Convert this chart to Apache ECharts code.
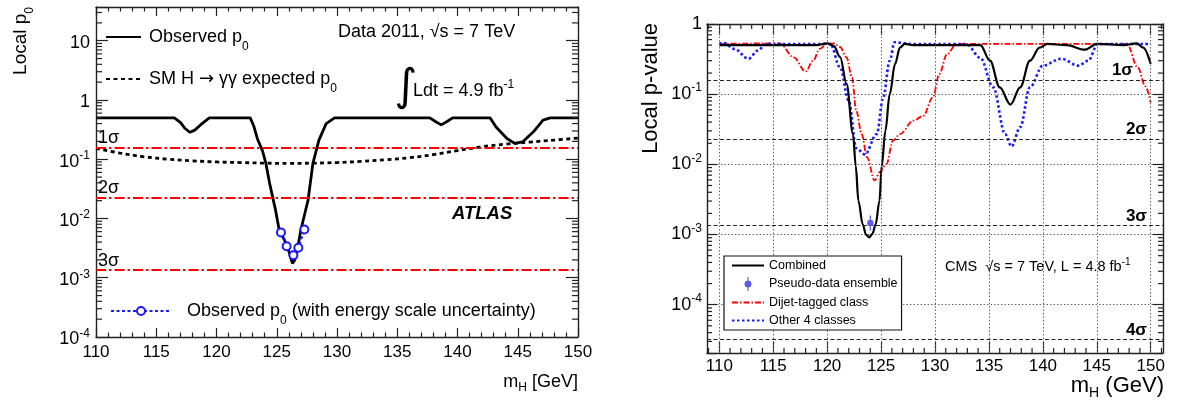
<!DOCTYPE html>
<html>
<head>
<meta charset="utf-8">
<script src="https://cdn.jsdelivr.net/npm/echarts@6/dist/echarts.min.js"></script>
<style>
html, body { margin: 0; padding: 0; background: #fff; }
#chart { width: 1177px; height: 401px; }
</style>
</head>
<body>
<div id="chart"></div>
<script>
// ---------------- ATLAS H -> gamma gamma, local p0 ----------------
const atlasObsMass = [110, 116.5, 117.0, 117.4, 117.8, 118.2, 118.8, 119.4, 122.8, 123.1, 123.4, 123.8,
  124.1, 124.4, 124.7, 124.9, 125.2, 125.6, 125.9, 126.1, 126.3, 126.5, 126.7, 127.0, 127.4, 127.6,
  128.0, 128.5, 129.1, 129.8, 137.7, 138.2, 138.65, 139.1, 139.6, 142.7, 143.2, 144.1, 144.75,
  145.4, 146.3, 147.1, 147.7, 150];
const atlasObsP = [0.5, 0.5, 0.42, 0.33, 0.285, 0.31, 0.40, 0.5, 0.5, 0.36, 0.22, 0.142,
  0.085, 0.040, 0.021, 0.0139, 0.0064, 0.0045, 0.0033, 0.0024, 0.00175, 0.0020, 0.0029, 0.0064, 0.0139, 0.0204,
  0.085, 0.21, 0.40, 0.5, 0.5, 0.43, 0.38, 0.43, 0.5, 0.5, 0.35, 0.224, 0.185,
  0.196, 0.29, 0.457, 0.5, 0.5];

const atlasExpMass = [110, 112, 114, 116, 118, 120, 122, 124, 126, 128, 130, 132, 134, 136, 138, 140, 142, 144, 146, 148, 150];
const atlasExpP = [0.152, 0.127, 0.11, 0.10, 0.094, 0.09, 0.088, 0.086, 0.085, 0.086, 0.088, 0.092, 0.098,
  0.106, 0.12, 0.14, 0.162, 0.18, 0.195, 0.21, 0.228];

// observed p0 including the photon energy scale uncertainty
const atlasEsMass = [125.35, 125.82, 126.38, 126.79, 127.29];
const atlasEsP = [0.0058, 0.0034, 0.0024, 0.0032, 0.0065];

// ---------------- CMS H -> gamma gamma, local p-value ----------------
const cmsCombMass = [110, 119.0, 120.0, 120.6, 121.2, 121.8, 122.4, 122.65, 122.9, 123.3, 123.6, 123.9,
  124.2, 124.5, 124.85, 125.06, 125.4, 125.8, 126.3, 126.75, 127.2, 128.0, 134.2, 135.1, 136.0, 137.0,
  137.9, 138.8, 139.7, 140.4, 142.2, 143.9, 145.0, 147.5, 148.7, 149.3, 150];
const cmsCombP = [0.5, 0.5, 0.53, 0.49, 0.34, 0.14, 0.027, 0.0095, 0.003, 0.0014, 0.00100, 0.00091,
  0.00102, 0.0014, 0.003, 0.0095, 0.03, 0.10, 0.27, 0.46, 0.52, 0.5, 0.5, 0.30, 0.125, 0.071,
  0.125, 0.30, 0.46, 0.52, 0.5, 0.43, 0.52, 0.5, 0.53, 0.46, 0.27];

const cmsDijetMass = [110, 115.6, 116.9, 118.0, 118.7, 119.3, 120.0, 120.6, 121.2, 121.8, 122.3, 122.7,
  123.2, 123.7, 124.4, 124.9, 125.5, 126.1, 126.75, 128.0, 128.9, 129.8, 130.4, 131.1, 132.0,
  147.8, 148.8, 149.5, 150];
const cmsDijetP = [0.52, 0.53, 0.335, 0.21, 0.30, 0.44, 0.52, 0.53, 0.47, 0.335, 0.174, 0.058,
  0.027, 0.0126, 0.0059, 0.0078, 0.0101, 0.0218, 0.027, 0.042, 0.049, 0.09, 0.194, 0.37, 0.52,
  0.52, 0.24, 0.13, 0.076];

const cmsOtherMass = [110, 110.4, 111.4, 112.7, 113.6, 114.3, 120.3, 121.2, 122.0, 122.7, 123.5, 124.6,
  125.2, 125.8, 126.25, 126.8, 127.7, 132.9, 134.2, 135.4, 136.5, 137.1, 137.9, 138.8, 140.0,
  141.7, 143.3, 144.2, 145.1, 150];
const cmsOtherP = [0.52, 0.54, 0.44, 0.32, 0.42, 0.52, 0.52, 0.24, 0.081, 0.017, 0.0138, 0.027,
  0.09, 0.30, 0.55, 0.54, 0.52, 0.52, 0.33, 0.125, 0.027, 0.018, 0.034, 0.125, 0.255,
  0.32, 0.255, 0.30, 0.52, 0.52];

const cmsPseudoMass = [124.0];
const cmsPseudoP = [0.00146];
const cmsPseudoLo = [0.00114];
const cmsPseudoHi = [0.00186];

// one-sided tail probabilities for 1, 2, 3, 4 sigma
const sigmaLabels = ['1σ', '2σ', '3σ', '4σ'];
const sigmaP = [0.1587, 0.02275, 0.00135, 3.17e-5];

// axis ticks
const massTicks = [110, 115, 120, 125, 130, 135, 140, 145, 150];
const mantissas = [2, 3, 4, 5, 6, 7, 8, 9];

// ---------------- drawing ----------------
const FONT = '"Liberation Sans", Arial, Helvetica, sans-serif';
const AX = '#222';

const L = { xMin: 110, xMax: 150, yMin: 1e-4, yMax: 37.1 };
const R = { xMin: 108.86, xMax: 151.14, yMin: 2.05e-5, yMax: 1 };

const zip = (a, b) => a.map((v, i) => [v, b[i]]);

function decadeLabel(v) {
  const lg = Math.log10(v);
  const e = Math.round(lg);
  if (Math.abs(lg - e) > 1e-6) return '';
  if (e === 0) return '{b|1}';
  if (e === 1) return '{b|10}';
  return '{b|10}{sup|' + e + '}';
}
const decadeRich = {
  b: { fontSize: 18, lineHeight: 24, fontFamily: FONT, color: '#000' },
  sup: { fontSize: 12, verticalAlign: 'top', fontFamily: FONT, color: '#000' }
};

function minorLog(lo, hi) {
  const out = [];
  for (let e = Math.floor(Math.log10(lo)); e <= Math.ceil(Math.log10(hi)); e++) {
    mantissas.forEach(m => {
      const v = m * Math.pow(10, e);
      if (v > lo * 1.001 && v < hi * 0.999) out.push(v);
    });
  }
  return out;
}
function minorLin(lo, hi) {
  const out = [];
  for (let v = Math.ceil(lo); v <= Math.floor(hi); v++) if (v % 5 !== 0) out.push(v);
  return out;
}

// short tick marks on the left and right edges of a frame, one per log value
function yTickSeries(axisIdx, xAnchor, vals, len) {
  return {
    type: 'custom', xAxisIndex: axisIdx, yAxisIndex: axisIdx, silent: true, clip: false, z: 6,
    dimensions: ['x', 'y'], encode: { x: 'x', y: 'y' },
    data: vals.map(v => [xAnchor, v]),
    renderItem(params, api) {
      const cs = params.coordSys;
      const p = api.coord([api.value(0), api.value(1)]);
      const r = cs.x + cs.width;
      return { type: 'group', children: [
        { type: 'line', shape: { x1: cs.x, y1: p[1], x2: cs.x + len, y2: p[1] }, style: { stroke: AX, lineWidth: 1.2 } },
        { type: 'line', shape: { x1: r, y1: p[1], x2: r - len, y2: p[1] }, style: { stroke: AX, lineWidth: 1.2 } }
      ] };
    }
  };
}
// short tick marks on the bottom and top edges of a frame
function xTickSeries(axisIdx, yAnchor, vals, len) {
  return {
    type: 'custom', xAxisIndex: axisIdx, yAxisIndex: axisIdx, silent: true, clip: false, z: 6,
    dimensions: ['x', 'y'], encode: { x: 'x', y: 'y' },
    data: vals.map(v => [v, yAnchor]),
    renderItem(params, api) {
      const cs = params.coordSys;
      const p = api.coord([api.value(0), api.value(1)]);
      const b = cs.y + cs.height;
      return { type: 'group', children: [
        { type: 'line', shape: { x1: p[0], y1: b, x2: p[0], y2: b - len }, style: { stroke: AX, lineWidth: 1.2 } },
        { type: 'line', shape: { x1: p[0], y1: cs.y, x2: p[0], y2: cs.y + len }, style: { stroke: AX, lineWidth: 1.2 } }
      ] };
    }
  };
}

const axisLine = { show: true, onZero: false, lineStyle: { color: AX, width: 1.4 } };
const tickStyle = { color: AX, width: 1.2 };

const xAxes = [
  { type: 'value', gridIndex: 0, position: 'bottom', min: L.xMin, max: L.xMax, interval: 5,
    axisLine: axisLine, axisTick: { inside: true, length: 9, lineStyle: tickStyle },
    minorTick: { show: true, splitNumber: 5, length: 4.5, lineStyle: tickStyle },
    axisLabel: { fontSize: 17, color: '#000', margin: 7, fontFamily: FONT },
    splitLine: { show: false } },
  { type: 'value', gridIndex: 0, position: 'top', min: L.xMin, max: L.xMax, interval: 5,
    axisLine: axisLine, axisTick: { inside: true, length: 9, lineStyle: tickStyle },
    minorTick: { show: true, splitNumber: 5, length: 4.5, lineStyle: tickStyle },
    axisLabel: { show: false }, splitLine: { show: false } },
  { type: 'value', gridIndex: 1, position: 'bottom', min: R.xMin, max: R.xMax,
    axisLine: axisLine,
    axisTick: { inside: true, length: 11, lineStyle: tickStyle, customValues: massTicks },
    axisLabel: { fontSize: 17, color: '#000', margin: 5, fontFamily: FONT, customValues: massTicks },
    splitLine: { show: false } },
  { type: 'value', gridIndex: 1, position: 'top', min: R.xMin, max: R.xMax,
    axisLine: axisLine,
    axisTick: { inside: true, length: 11, lineStyle: tickStyle, customValues: massTicks },
    axisLabel: { show: false }, splitLine: { show: false } }
];

const yAxes = [
  { type: 'log', logBase: 10, gridIndex: 0, position: 'left', min: L.yMin, max: L.yMax,
    axisLine: axisLine, axisTick: { inside: true, length: 12, lineStyle: tickStyle },
    axisLabel: { formatter: decadeLabel, rich: decadeRich, margin: 6, padding: [5, 0, 0, 0] },
    splitLine: { show: false } },
  { type: 'log', logBase: 10, gridIndex: 0, position: 'right', min: L.yMin, max: L.yMax,
    axisLine: axisLine, axisTick: { inside: true, length: 12, lineStyle: tickStyle },
    axisLabel: { show: false }, splitLine: { show: false } },
  { type: 'log', logBase: 10, gridIndex: 1, position: 'left', min: R.yMin, max: R.yMax,
    axisLine: axisLine, axisTick: { inside: true, length: 10, lineStyle: tickStyle },
    axisLabel: { formatter: decadeLabel, rich: decadeRich, margin: 5 },
    splitLine: { show: true, lineStyle: { color: '#666', width: 1, type: [1.5, 2] } } },
  { type: 'log', logBase: 10, gridIndex: 1, position: 'right', min: R.yMin, max: R.yMax,
    axisLine: axisLine, axisTick: { inside: true, length: 10, lineStyle: tickStyle },
    axisLabel: { show: false }, splitLine: { show: false } }
];

const legendRich = {
  b: { fontSize: 18, lineHeight: 32, fontFamily: FONT, color: '#000' },
  arr: { fontSize: 18, lineHeight: 32, fontFamily: '"DejaVu Sans", sans-serif', color: '#000' },
  sub: { fontSize: 12, verticalAlign: 'bottom', fontFamily: FONT, color: '#000' }
};
const noMark = { opacity: 0 };

const NAME_OBS = 'Observed p0';
const NAME_EXP = 'SM expected p0';
const NAME_ES = 'Observed p0 (with energy scale uncertainty)';

const legends = [
  { selectedMode: false, left: 105, top: 28, padding: 0, itemWidth: 35, itemHeight: 14,
    data: [{ name: NAME_OBS, itemStyle: noMark }],
    formatter: () => '{b|Observed p}{sub|0}',
    textStyle: { padding: [0, 0, 0, 3], rich: legendRich } },
  { selectedMode: false, left: 105, top: 70, padding: 0, itemWidth: 35, itemHeight: 14,
    data: [{ name: NAME_EXP, itemStyle: noMark }],
    formatter: () => '{b|SM H }{arr|→}{b| γγ expected p}{sub|0}',
    textStyle: { padding: [0, 0, 0, 3], rich: legendRich } },
  { selectedMode: false, left: 110, top: 302, padding: 0, itemWidth: 60, itemHeight: 10,
    data: [{ name: NAME_ES }],
    formatter: () => '{b|Observed p}{sub|0}{b| (with energy scale uncertainty)}',
    textStyle: { padding: [0, 0, 0, 11], rich: legendRich } },
  { selectedMode: false, orient: 'vertical', left: 724, top: 256, padding: [3, 4, 3, 7],
    itemWidth: 32, itemHeight: 14, itemGap: 5,
    backgroundColor: '#fff', borderColor: '#111', borderWidth: 1.2, z: 20,
    textStyle: { fontSize: 12.5, fontFamily: FONT, color: '#000' },
    data: [
      { name: 'Combined', itemStyle: noMark },
      { name: 'Pseudo-data ensemble',
        icon: 'path://M0,0h0.01v0.01h-0.01zM31.99,13.99h0.01v0.01h-0.01zM15.4,0h1.2v14h-1.2zM19.5,7a3.5,3.5 0 1,1 -7,0a3.5,3.5 0 1,1 7,0z' },
      { name: 'Dijet-tagged class', itemStyle: noMark },
      { name: 'Other 4 classes', itemStyle: noMark }
    ] }
];

const series = [
  // ---- left frame ----
  { name: NAME_OBS, type: 'line', xAxisIndex: 0, yAxisIndex: 0, z: 4, silent: true,
    data: zip(atlasObsMass, atlasObsP), symbol: 'none', color: '#000',
    lineStyle: { color: '#000', width: 2.8 },
    markLine: {
      silent: true, symbol: ['none', 'none'], animation: false, precision: 8,
      lineStyle: { color: '#ff0000', width: 2.2, type: [10, 3, 2.5, 3] },
      label: { show: true, position: 'insideStartTop', color: '#000', fontSize: 18,
        fontFamily: FONT, distance: [2, 0] },
      data: sigmaP.slice(0, 3).map((p, i) => ({ yAxis: p, label: { formatter: sigmaLabels[i] } }))
    } },
  { name: NAME_EXP, type: 'line', xAxisIndex: 0, yAxisIndex: 0, z: 3, silent: true,
    data: zip(atlasExpMass, atlasExpP), symbol: 'none', smooth: 0.4, color: '#000',
    lineStyle: { color: '#000', width: 2.8, type: [4, 3.5] } },
  { name: NAME_ES, type: 'line', xAxisIndex: 0, yAxisIndex: 0, z: 5, silent: true,
    data: zip(atlasEsMass, atlasEsP), symbol: 'emptyCircle', symbolSize: 8, color: '#1a1aff',
    itemStyle: { color: '#1a1aff', borderWidth: 1.5 },
    lineStyle: { color: '#1a1aff', width: 2.2, type: [3, 2.5] } },
  yTickSeries(0, 130, minorLog(L.yMin, L.yMax), 6),

  // ---- right frame ----
  { type: 'line', xAxisIndex: 2, yAxisIndex: 2, data: [], z: 1, silent: true,
    markLine: {
      silent: true, symbol: ['none', 'none'], animation: false, precision: 8,
      lineStyle: { color: '#666', width: 1, type: [1.5, 2] }, label: { show: false },
      data: massTicks.map(m => ({ xAxis: m }))
    } },
  { type: 'line', xAxisIndex: 2, yAxisIndex: 2, data: [], z: 1, silent: true,
    markLine: {
      silent: true, symbol: ['none', 'none'], animation: false, precision: 8,
      lineStyle: { color: '#222', width: 1, type: [4, 2.5] },
      label: { show: true, position: 'insideEndTop', color: '#000', fontSize: 17,
        fontWeight: 'bold', fontFamily: FONT, distance: [16, 1] },
      data: sigmaP.map((p, i) => ({ yAxis: p,
        label: { formatter: sigmaLabels[i], distance: i === 0 ? [30, 1] : [16, 1] } }))
    } },
  { name: 'Dijet-tagged class', type: 'line', xAxisIndex: 2, yAxisIndex: 2, z: 3, silent: true,
    data: zip(cmsDijetMass, cmsDijetP), symbol: 'none', smooth: 0.35, smoothMonotone: 'x',
    color: '#ff0000', lineStyle: { color: '#ff0000', width: 1.8, type: [6, 2, 1.5, 2] } },
  { name: 'Other 4 classes', type: 'line', xAxisIndex: 2, yAxisIndex: 2, z: 3, silent: true,
    data: zip(cmsOtherMass, cmsOtherP), symbol: 'none', smooth: 0.35, smoothMonotone: 'x',
    color: '#1a1aff', lineStyle: { color: '#1a1aff', width: 2.6, type: [2.5, 2.5] } },
  { name: 'Combined', type: 'line', xAxisIndex: 2, yAxisIndex: 2, z: 4, silent: true,
    data: zip(cmsCombMass, cmsCombP), symbol: 'none', smooth: 0.35, smoothMonotone: 'x',
    color: '#000', lineStyle: { color: '#000', width: 2.2 } },
  { name: 'Pseudo-data ensemble', type: 'custom', xAxisIndex: 2, yAxisIndex: 2, z: 5, silent: true,
    itemStyle: { color: '#5c5ce6' },
    data: cmsPseudoMass.map((m, i) => [m, cmsPseudoP[i], cmsPseudoLo[i], cmsPseudoHi[i]]),
    encode: { x: 0, y: [1, 2, 3] },
    renderItem(params, api) {
      const c = api.coord([api.value(0), api.value(1)]);
      const lo = api.coord([api.value(0), api.value(2)]);
      const hi = api.coord([api.value(0), api.value(3)]);
      const col = api.visual('color');
      return { type: 'group', children: [
        { type: 'line', shape: { x1: c[0], y1: lo[1], x2: c[0], y2: hi[1] }, style: { stroke: col, lineWidth: 1.3 } },
        { type: 'circle', shape: { cx: c[0], cy: c[1], r: 3.2 }, style: { fill: col } }
      ] };
    } },
  xTickSeries(2, 0.5, minorLin(R.xMin, R.xMax), 5),
  yTickSeries(2, 130, minorLog(R.yMin, R.yMax), 5)
];

const txt = (x, y, text, extra) => ({ type: 'text', x: x, y: y, silent: true, z: 30,
  style: Object.assign({ text: text, fontFamily: FONT, fill: '#000' }, extra) });

const yTitleLeft = txt(21, 7, '{b|Local p}{sub|0}', { align: 'right', verticalAlign: 'middle',
  rich: { b: { fontSize: 19, lineHeight: 30, fontFamily: FONT }, sub: { fontSize: 12, verticalAlign: 'bottom', fontFamily: FONT } } });
yTitleLeft.rotation = Math.PI / 2;
const yTitleRight = txt(651, 23, 'Local p-value', { align: 'right', verticalAlign: 'middle', fontSize: 22 });
yTitleRight.rotation = Math.PI / 2;

const graphics = [
  yTitleLeft,
  yTitleRight,
  txt(578, 382, '{b|m}{sub|H}{b| [GeV]}', { align: 'right', verticalAlign: 'middle',
    rich: { b: { fontSize: 18, lineHeight: 24, fontFamily: FONT }, sub: { fontSize: 12, verticalAlign: 'bottom', fontFamily: FONT } } }),
  txt(1164, 386, '{b|m}{sub|H}{b| (GeV)}', { align: 'right', verticalAlign: 'middle',
    rich: { b: { fontSize: 22, lineHeight: 28, fontFamily: FONT }, sub: { fontSize: 14, verticalAlign: 'bottom', fontFamily: FONT } } }),
  // annotations, left frame
  txt(338, 32, 'Data 2011, √s = 7 TeV', { fontSize: 18, verticalAlign: 'middle' }),
  txt(406, 89, '∫', { fontSize: 44, align: 'center', verticalAlign: 'middle', fontFamily: '"DejaVu Sans", sans-serif', fontWeight: 'normal' }),
  txt(413, 91, '{b|Ldt = 4.9 fb}{sup|-1}', { verticalAlign: 'middle',
    rich: { b: { fontSize: 18, lineHeight: 24, fontFamily: FONT }, sup: { fontSize: 12, verticalAlign: 'top', fontFamily: FONT } } }),
  txt(452, 214, 'ATLAS', { fontSize: 18.5, fontWeight: 'bold', fontStyle: 'italic', verticalAlign: 'middle' }),
  // annotations, right frame
  txt(945, 267, '{b|CMS  √s = 7 TeV, L = 4.8 fb}{sup|-1}', { verticalAlign: 'middle',
    rich: { b: { fontSize: 14.5, lineHeight: 20, fontFamily: FONT }, sup: { fontSize: 10, verticalAlign: 'top', fontFamily: FONT } } })
];

const chart = echarts.init(document.getElementById('chart'), null, { renderer: 'canvas' });
chart.setOption({
  animation: false,
  backgroundColor: '#fff',
  textStyle: { fontFamily: FONT },
  grid: [
    { left: 96, top: 7, width: 482, height: 330 },
    { left: 707, top: 24, width: 456, height: 329 }
  ],
  xAxis: xAxes,
  yAxis: yAxes,
  legend: legends,
  series: series,
  graphic: graphics
});
</script>
</body>
</html>
